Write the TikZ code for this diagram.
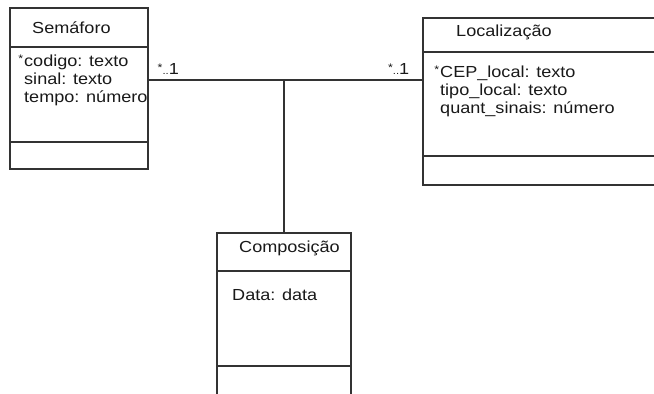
\documentclass[tikz,border=0pt]{standalone}
\usepackage{fontspec}
\setmainfont{Liberation Sans}[FakeStretch=1.13]
\usetikzlibrary{positioning}

\newcommand{\keystar}{\llap{\raisebox{4pt}{\fontsize{11}{11}\selectfont *}\hspace{1pt}}}
\newcommand{\multstar}{\raisebox{3pt}{\fontsize{11}{11}\selectfont *}{\fontsize{10}{10}\selectfont ..}}

\begin{document}
\begin{tikzpicture}[x=1pt, y=-1pt]
    \tikzstyle{part} = [rectangle, draw=black!80, line width=1.4pt, anchor=north west,
    outer sep=0pt, inner sep=0pt]
    \tikzstyle{classname} = [font=\fontsize{16}{18}\selectfont, text=black!90,
    inner sep=0pt, anchor=base west]
    \tikzstyle{attrs} = [classname, align=left]
    \tikzstyle{mult} = [font=\fontsize{16}{18}\selectfont, text=black!90, inner sep=0pt]
    \tikzstyle{line} = [draw=black!80, line width=1.4pt]
    \clip (0,0) rectangle (654,394);
    % Semaforo
    \node [part, minimum width=138pt, minimum height=39pt] (semaforo) at (10,8) {};
    \node [part, minimum width=138pt, minimum height=95pt, below=0pt of semaforo] (semaforoattr) {};
    \node [part, minimum width=138pt, minimum height=27pt, below=0pt of semaforoattr] (semaforoops) {};
    \node [classname, below right=25pt and 22pt of semaforo.north west, anchor=base west] {Semáforo};
    \node [attrs, below right=55pt and 14pt of semaforoattr.north west, anchor=base west]
    {\keystar codigo: texto\\sinal: texto\\tempo: número};
    % Localizacao
    \node [part, minimum width=240pt, minimum height=34pt] (local) at (423,18) {};
    \node [part, minimum width=240pt, minimum height=104pt, below=0pt of local] (localattr) {};
    \node [part, minimum width=240pt, minimum height=29pt, below=0pt of localattr] (localops) {};
    \node [classname, below right=18pt and 33pt of local.north west, anchor=base west] {Localização};
    \node [attrs, below right=61pt and 17pt of localattr.north west, anchor=base west]
    {\keystar CEP\_local: texto\\tipo\_local: texto\\quant\_sinais: número};
    % Composicao
    \node [part, minimum width=134pt, minimum height=38pt] (composicao) at (217,233) {};
    \node [part, minimum width=134pt, minimum height=95pt, below=0pt of composicao] (composicaoattr) {};
    \node [part, minimum width=134pt, minimum height=40pt, below=0pt of composicaoattr] (composicaoops) {};
    \node [classname, below right=19.5pt and 22pt of composicao.north west, anchor=base west] {Composição};
    \node [attrs, below right=29pt and 15pt of composicaoattr.north west, anchor=base west] {Data: data};
    % associacao
    \coordinate (junc) at (284,80);
    \path [line] (semaforoattr.east |- junc)
    node [mult, anchor=base west, xshift=9pt, yshift=6pt] {\multstar1}
    -- (localattr.west |- junc)
    node [mult, anchor=base east, xshift=-13pt, yshift=6pt] {\multstar1};
    \path [line] (junc) -- (composicao.north);
\end{tikzpicture}
\end{document}
